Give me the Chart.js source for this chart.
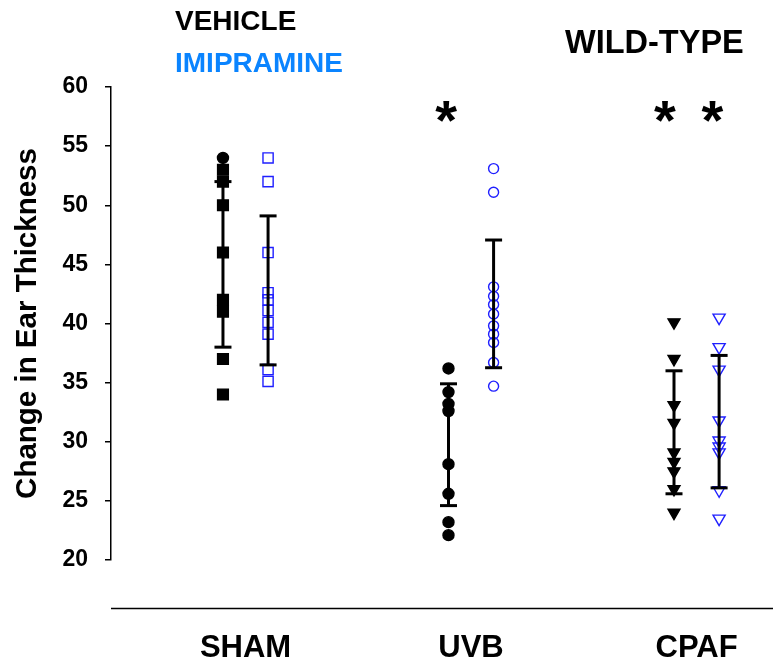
<!DOCTYPE html>
<html>
<head>
<meta charset="utf-8">
<script src="https://cdn.jsdelivr.net/npm/chart.js@4.4.0/dist/chart.umd.min.js"></script>
<style>
html,body{margin:0;padding:0;background:#fff;}
#wrap{width:773px;height:663px;}
</style>
</head>
<body>
<div id="wrap"><canvas id="c" width="773" height="663"></canvas></div>
<script>
// ---- data ----
const categories = ['SHAM', 'UVB', 'CPAF'];
const categoryPos = [1, 2, 3];
const yTicks = [20, 25, 30, 35, 40, 45, 50, 55, 60];

const shamVehicle = [54, 53, 52, 50, 46, 42, 41, 37, 34];
const shamImipramine = [54, 52, 46, 42.6, 42, 41.1, 40.1, 39.1, 36.1, 35.1];
const uvbVehicle = [36.2, 34.2, 33.2, 32.6, 28.1, 25.6, 23.2, 22.1];
const uvbImipramine = [53.1, 51.1, 43.1, 42.3, 41.6, 40.8, 39.8, 39.1, 38.4, 36.7, 34.7];
const cpafVehicle = [40.1, 37.0, 33.1, 31.6, 29.1, 28.3, 27.5, 26.0, 24.0];
const cpafImipramine = [40.5, 38.0, 36.1, 31.8, 30.1, 29.6, 29.1, 25.9, 23.5];

// mean and SD per group (vehicle, imipramine) for SHAM, UVB, CPAF
const vehicleMean = [45.0, 29.75, 30.8];
const vehicleSD = [7.0, 5.15, 5.2];
const imipramineMean = [42.8, 41.66, 31.7];
const imipramineSD = [6.3, 5.4, 5.6];

// significance asterisks
const sigX = [1.89, 2.86, 3.07];
const sigY = [57.9, 57.9, 57.9];

// ---- build datasets ----
const OFF = 0.1;
const BLUE = '#1f1fff';
function pts(vals, x) { return vals.map(v => ({x: x, y: v})); }

const markerSets = [
  {vals: shamVehicle, x: categoryPos[0] - OFF, style: shamVehicle.map((v, i) => i === 0 ? 'circle' : 'rect'),
   radius: shamVehicle.map((v, i) => i === 0 ? 5.5 : 7.6), fill: '#000', border: '#000', rot: 0},
  {vals: shamImipramine, x: categoryPos[0] + OFF, style: 'rect', radius: 7.2, fill: 'rgba(0,0,0,0)', border: BLUE, rot: 0},
  {vals: uvbVehicle, x: categoryPos[1] - OFF, style: 'circle', radius: 5.5, fill: '#000', border: '#000', rot: 0},
  {vals: uvbImipramine, x: categoryPos[1] + OFF, style: 'circle', radius: 5.0, fill: 'rgba(0,0,0,0)', border: BLUE, rot: 0},
  {vals: cpafVehicle, x: categoryPos[2] - OFF, style: 'triangle', radius: 6.9, fill: '#000', border: '#000', rot: 180},
  {vals: cpafImipramine, x: categoryPos[2] + OFF, style: 'triangle', radius: 7.0, fill: 'rgba(0,0,0,0)', border: BLUE, rot: 180}
];

const datasets = [];
markerSets.forEach(m => {
  datasets.push({
    type: 'scatter',
    data: pts(m.vals, m.x),
    pointStyle: m.style,
    pointRadius: m.radius,
    pointBackgroundColor: m.fill,
    pointBorderColor: m.border,
    pointBorderWidth: 1.4,
    pointRotation: m.rot,
    order: 2
  });
});

function errBar(x, mean, sd) {
  return {
    type: 'line',
    data: [{x: x, y: mean - sd}, {x: x, y: mean + sd}],
    borderColor: '#000',
    borderWidth: 3,
    showLine: true,
    pointStyle: 'line',
    pointRadius: 8.5,
    pointBorderWidth: 3,
    pointBorderColor: '#000',
    order: 1
  };
}
categoryPos.forEach((p, i) => {
  datasets.push(errBar(p - OFF, vehicleMean[i], vehicleSD[i]));
  datasets.push(errBar(p + OFF, imipramineMean[i], imipramineSD[i]));
});

const FONT = '"Liberation Sans", Arial, Helvetica, sans-serif';

const decor = {
  id: 'decor',
  afterDraw(chart) {
    const ctx = chart.ctx;
    const ca = chart.chartArea;
    const xs = chart.scales.x, ys = chart.scales.y;
    ctx.save();
    // x axis line below the plot
    ctx.strokeStyle = '#000';
    ctx.lineWidth = 1.5;
    ctx.beginPath();
    ctx.moveTo(ca.left, ca.bottom + 48.5);
    ctx.lineTo(chart.width, ca.bottom + 48.5);
    ctx.stroke();

    // legend texts and panel title
    ctx.textBaseline = 'alphabetic';
    ctx.textAlign = 'left';
    ctx.font = 'bold 28px ' + FONT;
    ctx.fillStyle = '#000';
    ctx.fillText('VEHICLE', 175, 30);
    ctx.fillStyle = '#0a84ff';
    ctx.fillText('IMIPRAMINE', 175, 72);
    ctx.fillStyle = '#000';
    ctx.font = 'bold 32.5px ' + FONT;
    ctx.fillText('WILD-TYPE', 565, 53);

    // asterisks
    ctx.font = 'bold 56px ' + FONT;
    ctx.textAlign = 'center';
    const m = ctx.measureText('*');
    const A = m.actualBoundingBoxAscent, D = m.actualBoundingBoxDescent;
    sigX.forEach((sx, i) => {
      const px = xs.getPixelForValue(sx);
      const py = ys.getPixelForValue(sigY[i]);
      ctx.fillText('*', px, py + (A - D) / 2);
    });
    ctx.restore();
  }
};

new Chart(document.getElementById('c'), {
  data: {datasets: datasets},
  options: {
    responsive: false,
    animation: false,
    layout: {autoPadding: false, padding: {top: 87, right: 0, bottom: 0, left: 0}},
    plugins: {legend: {display: false}, tooltip: {enabled: false}},
    scales: {
      x: {
        type: 'linear',
        min: 0.4035,
        max: 3.339,
        grid: {display: false},
        border: {display: false},
        afterBuildTicks: s => { s.ticks = categoryPos.map(v => ({value: v})); },
        afterFit: s => { s.height = 103; s.paddingLeft = 0; s.paddingRight = 0; },
        ticks: {
          callback: v => categories[categoryPos.indexOf(v)] || '',
          font: {family: FONT, size: 31, weight: 'bold'},
          color: '#000',
          padding: 62,
          maxRotation: 0
        }
      },
      y: {
        type: 'linear',
        min: 20,
        max: 60,
        afterBuildTicks: s => { s.ticks = yTicks.map(v => ({value: v})); },
        afterFit: s => { s.width = 111; },
        grid: {drawOnChartArea: false, drawTicks: true, tickLength: 6, color: '#000', lineWidth: 1.5},
        border: {display: true, color: '#000', width: 1.5},
        ticks: {
          font: {family: FONT, size: 23, weight: 'bold'},
          color: '#000',
          padding: 17
        },
        title: {
          display: true,
          text: 'Change in Ear Thickness',
          font: {family: FONT, size: 29.5, weight: 'bold'},
          color: '#000',
          padding: {top: 10, bottom: 0}
        }
      }
    }
  },
  plugins: [decor]
});
</script>
</body>
</html>
